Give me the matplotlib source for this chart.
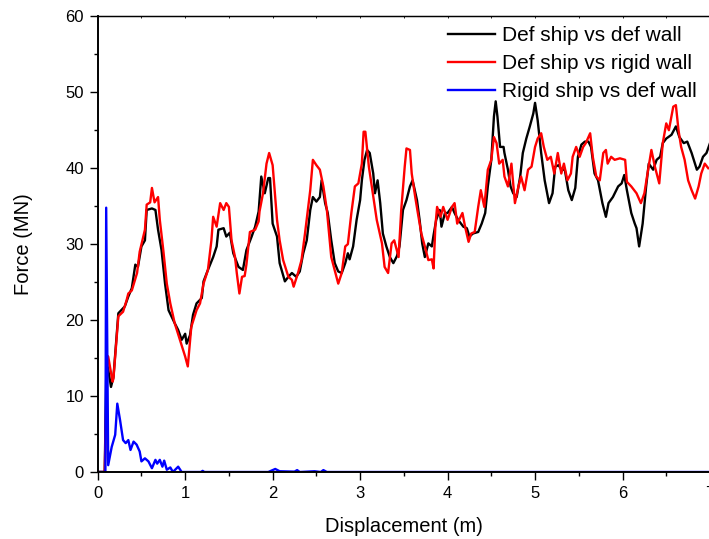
import matplotlib
matplotlib.use("Agg")
import matplotlib.pyplot as plt
from matplotlib.ticker import MultipleLocator

plt.rcParams['font.family'] = ['Liberation Sans', 'DejaVu Sans']

# Def ship vs def wall
black_x = [0.0, 0.08, 0.10, 0.12, 0.152, 0.18, 0.236, 0.31, 0.35, 0.39, 0.43, 0.46, 0.50, 0.54, 0.56, 0.62, 0.66, 0.69, 0.73, 0.77, 0.81, 0.88, 0.92, 0.96, 1.00, 1.017, 1.055, 1.09, 1.13, 1.19, 1.21, 1.26, 1.32, 1.36, 1.38, 1.44, 1.47, 1.51, 1.55, 1.61, 1.66, 1.70, 1.76, 1.80, 1.84, 1.87, 1.91, 1.95, 1.97, 2.00, 2.05, 2.08, 2.14, 2.18, 2.22, 2.27, 2.31, 2.35, 2.39, 2.43, 2.46, 2.50, 2.54, 2.56, 2.60, 2.63, 2.67, 2.71, 2.75, 2.79, 2.83, 2.86, 2.88, 2.92, 2.96, 3.00, 3.02, 3.05, 3.08, 3.11, 3.15, 3.17, 3.20, 3.23, 3.26, 3.30, 3.34, 3.38, 3.42, 3.45, 3.49, 3.53, 3.57, 3.60, 3.65, 3.68, 3.71, 3.74, 3.78, 3.82, 3.84, 3.87, 3.91, 3.93, 3.97, 4.00, 4.05, 4.08, 4.12, 4.18, 4.22, 4.25, 4.29, 4.35, 4.39, 4.43, 4.46, 4.50, 4.53, 4.55, 4.57, 4.60, 4.64, 4.65, 4.69, 4.72, 4.75, 4.79, 4.83, 4.86, 4.90, 4.94, 4.98, 5.00, 5.03, 5.07, 5.11, 5.16, 5.20, 5.23, 5.27, 5.30, 5.34, 5.38, 5.42, 5.46, 5.49, 5.53, 5.57, 5.61, 5.64, 5.68, 5.72, 5.77, 5.81, 5.84, 5.89, 5.95, 5.99, 6.02, 6.05, 6.10, 6.14, 6.16, 6.19, 6.23, 6.27, 6.30, 6.35, 6.39, 6.43, 6.46, 6.50, 6.56, 6.61, 6.65, 6.70, 6.74, 6.79, 6.85, 6.88, 6.92, 6.96, 7.00]
black_y = [0, 0, 14.5, 13.5, 11.2, 12.5, 20.9, 21.8, 23.1, 24.2, 27.3, 27.0, 29.7, 30.5, 34.5, 34.7, 34.5, 31.9, 29.2, 24.8, 21.3, 19.6, 18.7, 17.4, 18.2, 16.9, 18.0, 20.7, 22.2, 22.9, 25.1, 26.6, 28.3, 29.7, 31.9, 32.1, 31.0, 31.5, 28.8, 27.0, 26.6, 29.2, 31.0, 32.3, 34.3, 38.9, 36.7, 38.7, 38.7, 32.7, 31.0, 27.5, 25.1, 25.7, 26.2, 25.7, 26.4, 28.8, 30.5, 34.5, 36.2, 35.6, 36.2, 38.4, 35.4, 34.1, 30.5, 27.5, 26.4, 26.2, 27.5, 28.8, 28.0, 29.7, 33.2, 35.8, 38.4, 41.1, 42.4, 42.0, 39.3, 36.7, 38.4, 35.4, 31.4, 29.7, 28.3, 27.5, 28.4, 29.7, 34.5, 35.8, 37.6, 38.4, 35.8, 33.2, 30.1, 28.3, 30.1, 29.7, 31.2, 33.2, 34.5, 32.3, 34.1, 34.1, 34.9, 34.1, 33.2, 32.3, 32.1, 31.0, 31.4, 31.6, 32.7, 34.1, 37.6, 41.1, 46.8, 48.8, 46.8, 42.8, 42.8, 42.0, 39.8, 37.6, 36.7, 36.2, 38.9, 42.0, 43.9, 45.5, 47.2, 48.6, 46.3, 42.0, 38.4, 35.4, 36.7, 40.2, 40.4, 39.8, 39.8, 37.1, 35.8, 37.4, 41.5, 43.1, 43.5, 43.5, 42.8, 39.3, 38.4, 35.4, 33.6, 35.4, 36.2, 37.6, 38.0, 39.1, 37.1, 34.1, 32.7, 32.1, 29.7, 32.7, 37.6, 40.6, 39.8, 41.1, 41.5, 43.3, 43.9, 44.4, 45.5, 44.1, 43.3, 43.5, 42.0, 39.8, 40.2, 41.5, 42.0, 43.3]

# Def ship vs rigid wall
red_x = [0.0, 0.08, 0.11, 0.12, 0.17, 0.18, 0.236, 0.29, 0.33, 0.35, 0.39, 0.45, 0.48, 0.54, 0.56, 0.60, 0.62, 0.65, 0.69, 0.71, 0.75, 0.79, 0.83, 0.88, 0.94, 1.00, 1.03, 1.07, 1.13, 1.17, 1.21, 1.26, 1.30, 1.32, 1.36, 1.40, 1.44, 1.47, 1.50, 1.53, 1.57, 1.59, 1.62, 1.65, 1.68, 1.70, 1.74, 1.80, 1.84, 1.85, 1.89, 1.93, 1.96, 2.00, 2.05, 2.08, 2.12, 2.18, 2.22, 2.24, 2.29, 2.33, 2.37, 2.43, 2.46, 2.50, 2.54, 2.58, 2.62, 2.67, 2.73, 2.75, 2.79, 2.83, 2.86, 2.90, 2.94, 2.98, 3.02, 3.04, 3.06, 3.10, 3.14, 3.19, 3.25, 3.28, 3.32, 3.36, 3.39, 3.44, 3.47, 3.51, 3.53, 3.57, 3.59, 3.63, 3.66, 3.70, 3.74, 3.78, 3.82, 3.84, 3.86, 3.88, 3.92, 3.95, 4.00, 4.05, 4.08, 4.11, 4.17, 4.20, 4.24, 4.27, 4.31, 4.35, 4.38, 4.42, 4.46, 4.50, 4.53, 4.56, 4.59, 4.63, 4.65, 4.69, 4.73, 4.77, 4.81, 4.84, 4.88, 4.92, 4.96, 5.00, 5.03, 5.07, 5.10, 5.14, 5.18, 5.22, 5.26, 5.30, 5.33, 5.37, 5.41, 5.43, 5.47, 5.51, 5.55, 5.58, 5.63, 5.66, 5.70, 5.74, 5.78, 5.81, 5.83, 5.87, 5.91, 5.97, 6.03, 6.05, 6.10, 6.16, 6.21, 6.25, 6.28, 6.33, 6.37, 6.42, 6.46, 6.50, 6.53, 6.58, 6.61, 6.64, 6.67, 6.71, 6.75, 6.79, 6.83, 6.87, 6.90, 6.94, 6.98]
red_y = [0, 0, 15.3, 15.2, 11.9, 12.3, 20.5, 21.1, 22.6, 23.5, 23.9, 26.2, 29.0, 31.9, 35.2, 35.5, 37.4, 35.5, 36.2, 33.2, 29.2, 24.8, 22.2, 19.6, 17.4, 15.2, 13.9, 19.1, 21.3, 22.2, 24.8, 26.6, 30.5, 33.6, 32.3, 35.4, 34.5, 35.4, 34.9, 30.5, 28.3, 26.2, 23.5, 25.7, 25.8, 27.3, 31.6, 31.9, 33.0, 34.3, 36.7, 40.6, 42.0, 40.4, 33.2, 30.5, 27.9, 25.7, 25.3, 24.4, 26.2, 27.9, 31.4, 37.1, 41.1, 40.4, 39.8, 37.6, 34.5, 28.3, 25.7, 24.8, 26.2, 29.7, 30.0, 34.1, 37.6, 38.0, 40.6, 44.8, 44.8, 40.2, 37.1, 33.2, 30.1, 27.0, 26.2, 30.1, 30.5, 28.3, 34.5, 40.2, 42.6, 42.4, 39.3, 36.2, 34.1, 31.4, 29.7, 27.9, 28.0, 26.8, 32.3, 34.9, 33.6, 34.9, 33.2, 34.9, 35.4, 32.7, 34.1, 32.3, 30.3, 31.4, 31.6, 34.9, 37.1, 34.9, 39.8, 41.1, 44.1, 43.3, 40.6, 41.1, 38.9, 37.6, 40.6, 35.4, 37.6, 38.9, 37.1, 39.8, 40.2, 42.8, 43.9, 44.6, 42.8, 41.1, 41.5, 39.3, 42.0, 39.3, 40.6, 38.4, 39.3, 41.5, 42.8, 41.5, 42.8, 43.3, 44.6, 41.5, 38.9, 38.4, 42.0, 42.4, 40.6, 41.5, 41.1, 41.3, 41.1, 38.2, 37.6, 36.7, 35.4, 36.7, 38.9, 42.4, 40.2, 38.0, 43.3, 45.9, 45.0, 48.1, 48.3, 45.0, 42.8, 41.1, 38.4, 37.1, 36.0, 37.6, 39.3, 40.6, 40.0]

# Rigid ship vs def wall
blue_x = [0.0, 0.088, 0.097, 0.12, 0.16, 0.20, 0.224, 0.256, 0.29, 0.32, 0.35, 0.375, 0.41, 0.445, 0.48, 0.50, 0.54, 0.58, 0.62, 0.66, 0.68, 0.71, 0.74, 0.76, 0.79, 0.83, 0.86, 0.92, 0.96, 1.18, 1.20, 1.22, 1.95, 1.98, 2.03, 2.08, 2.25, 2.28, 2.31, 2.48, 2.55, 2.58, 2.62, 7.0]
blue_y = [0, 0, 34.8, 0.9, 3.3, 4.9, 9.0, 6.8, 4.2, 3.8, 4.2, 2.9, 4.0, 3.6, 2.7, 1.4, 1.8, 1.4, 0.5, 1.6, 1.1, 1.6, 0.7, 1.5, 0.3, 0.6, 0.0, 0.7, 0.0, 0.0, 0.15, 0.0, 0.0, 0.15, 0.4, 0.1, 0.05, 0.25, 0.0, 0.1, 0.0, 0.25, 0.0, 0.0]

labels = ["Def ship vs def wall", "Def ship vs rigid wall", "Rigid ship vs def wall"]
x_ticks = [0, 1, 2, 3, 4, 5, 6, 7]
y_ticks = [0, 10, 20, 30, 40, 50, 60]

fig = plt.figure(figsize=(7.09, 5.39), dpi=100)
ax = fig.add_axes([0.1378, 0.1243, 0.8636, 0.8455])

ax.plot(black_x, black_y, color='#000000', lw=1.7, label=labels[0])
ax.plot(red_x, red_y, color='#ff0000', lw=1.7, label=labels[1])
ax.plot(blue_x, blue_y, color='#0000ff', lw=1.7, label=labels[2])

ax.set_xlim(0, 7)
ax.set_ylim(0, 60)
ax.set_xticks(x_ticks)
ax.set_yticks(y_ticks)
ax.xaxis.set_minor_locator(MultipleLocator(0.5))
ax.yaxis.set_minor_locator(MultipleLocator(5))
ax.tick_params(which='major', direction='out', length=5.8, width=1.0, labelsize=12, pad=4)
ax.tick_params(which='minor', direction='out', length=3, width=1.0)
for s in ['left', 'bottom']:
    ax.spines[s].set_linewidth(1.4)
ax.spines['top'].set_linewidth(0.9)
ax.spines['right'].set_linewidth(1.4)

sec = ax.secondary_xaxis('top')
sec.set_xticks(x_ticks)
sec.xaxis.set_minor_locator(MultipleLocator(0.5))
sec.tick_params(which='both', direction='in', length=1.5, width=0.6, labeltop=False)
sec.spines['top'].set_linewidth(0.9)

ax.set_xlabel("Displacement (m)", fontsize=14.5, labelpad=11.5)
ax.set_ylabel("Force (MN)", fontsize=14.5, labelpad=23.5)

ax.legend(loc='upper left', bbox_to_anchor=(0.632, 0.951), bbox_transform=fig.transFigure,
          frameon=False, fontsize=15, handlelength=2.25, handletextpad=0.35,
          labelspacing=0.42, borderpad=0, borderaxespad=0)

fig.savefig("out.png", dpi=100)
